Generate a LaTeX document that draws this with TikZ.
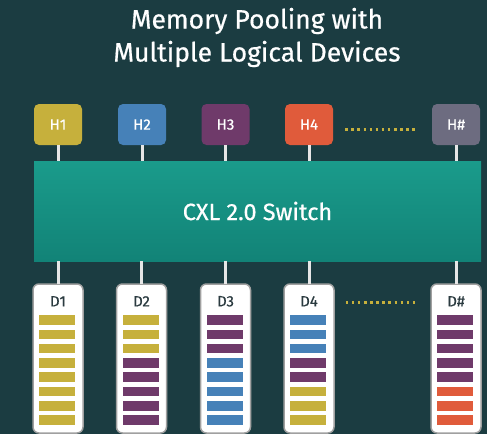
\documentclass[tikz,border=0pt]{standalone}
\usepackage{fontspec}
\setmainfont{Fira Sans}
\newfontfamily\medfont{Fira Sans}[FakeBold=0.6]
\definecolor{bg}{HTML}{1B3C41}
\definecolor{Y}{HTML}{C6B03C}
\definecolor{B}{HTML}{4681B8}
\definecolor{P}{HTML}{6F3A6A}
\definecolor{O}{HTML}{E05B3B}
\definecolor{G}{HTML}{6D6C80}
\definecolor{swtop}{HTML}{1A9B8B}
\definecolor{swbot}{HTML}{128377}
\definecolor{conncol}{HTML}{E6E6E6}
\definecolor{dtext}{HTML}{2B3B40}
\definecolor{dborder}{HTML}{A0A0A0}
\begin{document}
\begin{tikzpicture}[x=1pt,y=-1pt,
  host/.style={minimum width=48pt,minimum height=41pt,inner sep=0pt,rounded corners=5pt,
    text=white,font=\medfont\fontsize{15}{18}\selectfont},
  devbox/.style={minimum width=50pt,minimum height=149pt,inner sep=0pt,rounded corners=6pt,
    fill=white,draw=dborder,line width=1.5pt},
  dlabel/.style={text=dtext,font=\medfont\fontsize{15}{18}\selectfont,inner sep=0pt},
  conn/.style={draw=conncol,line width=3pt},
  dotline/.style={draw=Y,line width=2.5pt,dash pattern=on 2.5pt off 3.6pt},
  switchbox/.style={minimum width=447pt,minimum height=100pt,inner sep=0pt,
    top color=swtop,bottom color=swbot,text=white,font=\medfont\fontsize{23.5}{26}\selectfont},
  titletext/.style={text=white,font=\medfont\fontsize{26.5}{30}\selectfont,inner sep=0pt,anchor=base}
]
\fill[bg] (0,0) rectangle (487,434);
\useasboundingbox (0,0) rectangle (487,434);

\node[titletext] (t1) at (257,28.5) {Memory Pooling with};
\node[titletext] (t2) at (257,61.5) {Multiple Logical Devices};

\node[switchbox] (sw) at (257.5,211) {CXL 2.0 Switch};

\node[host,fill=Y] (h1) at (58,124.5) {H1};
\node[host,fill=B] (h2) at (142,124.5) {H2};
\node[host,fill=P] (h3) at (225.5,124.5) {H3};
\node[host,fill=O] (h4) at (309,124.5) {H4};
\node[host,fill=G] (hn) at (456,124.5) {H\#};

\foreach \h in {h1,h2,h3,h4,hn}
  \draw[conn] (\h.south) -- (\h.south |- sw.north);

\draw[dotline] ([xshift=12pt,yshift=-5pt]h4.east) -- ([xshift=-14pt,yshift=-5pt]hn.west);

\node[devbox] (d1) at (58,358.5) {};
\node[devbox] (d2) at (141.5,358.5) {};
\node[devbox] (d3) at (225.5,358.5) {};
\node[devbox] (d4) at (309,358.5) {};
\node[devbox] (dn) at (456,358.5) {};

\foreach \d in {d1,d2,d3,d4,dn}
  \draw[conn] (sw.south -| \d.north) -- ([yshift=-0.75pt]\d.north);

\node[dlabel] (d1l) at ([yshift=-18pt]d1.north) {D1};
\node[dlabel] (d2l) at ([yshift=-18pt]d2.north) {D2};
\node[dlabel] (d3l) at ([yshift=-18pt]d3.north) {D3};
\node[dlabel] (d4l) at ([yshift=-18pt]d4.north) {D4};
\node[dlabel] (dnl) at ([yshift=-18pt]dn.north) {D\#};

\draw[dotline] ([xshift=11pt,yshift=-19pt]d4.north east) -- ([xshift=-12pt,yshift=-19pt]dn.north west);

\begin{scope}[shift={(d1.north west)}]
  \foreach \c [count=\i from 0] in {Y,Y,Y,Y,Y,Y,Y,Y}
    \fill[\c] (7,32+14.3*\i) rectangle ++(36,9.5);
\end{scope}
\begin{scope}[shift={(d2.north west)}]
  \foreach \c [count=\i from 0] in {Y,Y,Y,P,P,P,P,P}
    \fill[\c] (7,32+14.3*\i) rectangle ++(36,9.5);
\end{scope}
\begin{scope}[shift={(d3.north west)}]
  \foreach \c [count=\i from 0] in {P,P,P,B,B,B,B,B}
    \fill[\c] (7,32+14.3*\i) rectangle ++(36,9.5);
\end{scope}
\begin{scope}[shift={(d4.north west)}]
  \foreach \c [count=\i from 0] in {B,B,B,P,P,Y,Y,Y}
    \fill[\c] (7,32+14.3*\i) rectangle ++(36,9.5);
\end{scope}
\begin{scope}[shift={(dn.north west)}]
  \foreach \c [count=\i from 0] in {P,P,P,P,P,O,O,O}
    \fill[\c] (7,32+14.3*\i) rectangle ++(36,9.5);
\end{scope}
\end{tikzpicture}
\end{document}
